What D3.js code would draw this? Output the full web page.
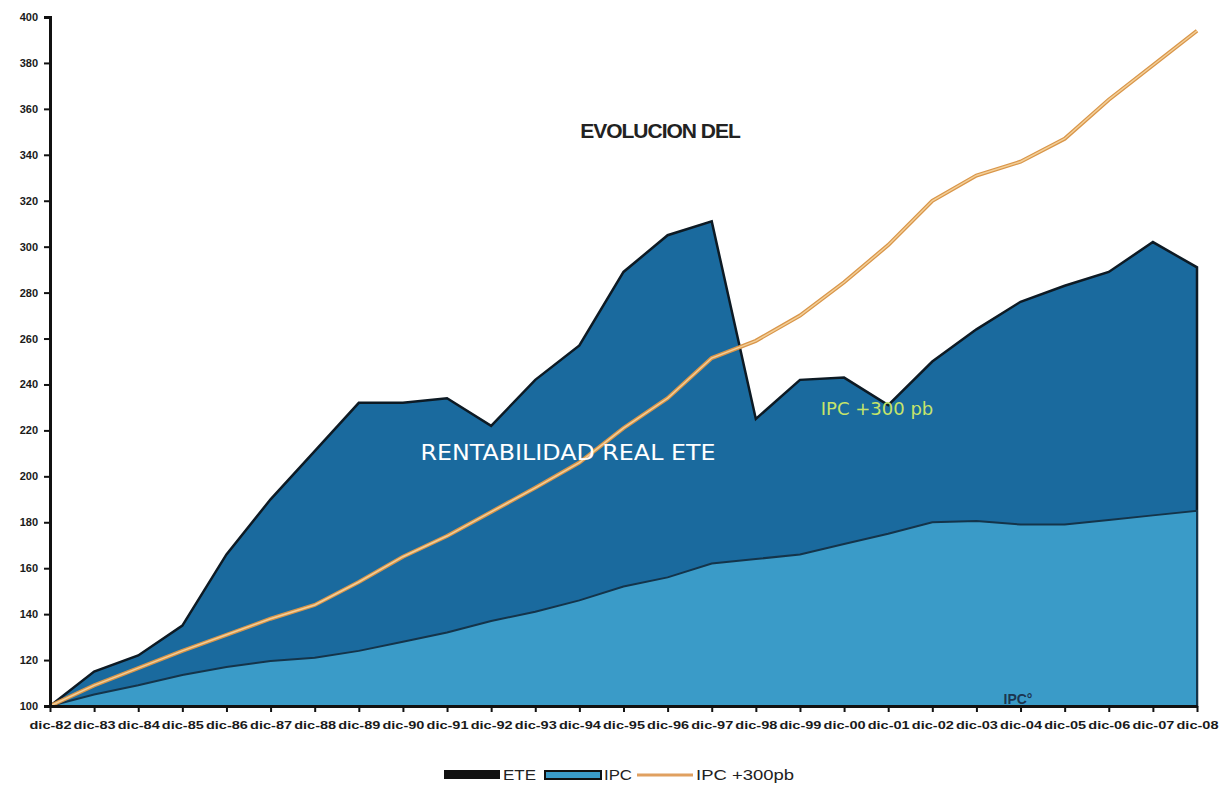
<!DOCTYPE html>
<html><head><meta charset="utf-8">
<script src="https://cdn.jsdelivr.net/npm/d3@7"></script>
<style>body{margin:0;background:#fff}svg{display:block}</style>
</head><body>
<svg id="c" width="1225" height="789"></svg>
<script>
const categories = ["dic-82","dic-83","dic-84","dic-85","dic-86","dic-87","dic-88","dic-89","dic-90","dic-91","dic-92","dic-93","dic-94","dic-95","dic-96","dic-97","dic-98","dic-99","dic-00","dic-01","dic-02","dic-03","dic-04","dic-05","dic-06","dic-07","dic-08"];
const ete = [100,115,122,135,166,190,211,232,232,234,222,242,257,289,305,311,225,242,243,231,250,264,276,283,289,302,291];
const ipc = [100,105,109,113.5,117,119.6,121,124,128,132,137,141,146,152,156,162,164,166,170.5,175,180,180.5,179,179,181,183,185];
const ipc300 = [100,109,116.5,124,131,138,144,154,165,174,184.5,195,206,221,234,251.5,259,270,284.5,300.7,320,331,337,347,364,379,394];
const yTicks = [100,120,140,160,180,200,220,240,260,280,300,320,340,360,380,400];

const svg = d3.select("#c");
const x = d3.scalePoint().domain(categories).range([50,1197]);
const y = d3.scaleLinear().domain([100,400]).range([706,17]);

const areaE = d3.area().x((d,i)=>x(categories[i])).y0(y(100)).y1(d=>y(d));
svg.append("path").datum(ete).attr("d",areaE).attr("fill","#1a6a9e").attr("stroke","#0d1a24").attr("stroke-width",2.5);
svg.append("path").datum(ipc).attr("d",areaE).attr("fill","#3a9bc8").attr("stroke","#14344a").attr("stroke-width",2);

const line = d3.line().x((d,i)=>x(categories[i])).y(d=>y(d));
svg.append("path").datum(ipc300).attr("d",line).attr("fill","none").attr("stroke","#d9964a").attr("stroke-width",4);
svg.append("path").datum(ipc300).attr("d",line).attr("fill","none").attr("stroke","#f3cf98").attr("stroke-width",1.5);

// axes
const ya = svg.append("g").attr("transform","translate(50,0)")
  .call(d3.axisLeft(y).tickValues(yTicks).tickSize(6).tickPadding(6).tickFormat(d3.format("d")));
ya.select(".domain").attr("stroke","#111").attr("stroke-width",3);
ya.selectAll(".tick line").attr("stroke","#111").attr("stroke-width",2);
ya.selectAll("text").attr("font-family","Liberation Sans, Arial").attr("font-weight","bold").attr("font-size",11).attr("fill","#1a1a1a");

const xa = svg.append("g").attr("transform","translate(0,706)")
  .call(d3.axisBottom(x).tickSize(6).tickPadding(9).tickSizeOuter(0));
xa.select(".domain").attr("stroke","#111").attr("stroke-width",3);
xa.selectAll(".tick line").attr("stroke","#111").attr("stroke-width",2);
xa.selectAll("text").attr("font-family","Liberation Sans, Arial").attr("font-weight","bold").attr("font-size",11.5).attr("fill","#1a1a1a").attr("textLength",42).attr("lengthAdjust","spacingAndGlyphs");

// annotations
svg.append("text").attr("x",660).attr("y",138).attr("text-anchor","middle").attr("font-family","Liberation Sans, Arial").attr("font-weight","bold").attr("font-size",21).attr("fill","#222").attr("letter-spacing",-1).text("EVOLUCION DEL");
svg.append("text").attr("x",568).attr("y",460).attr("text-anchor","middle").attr("font-family","DejaVu Sans, Arial").attr("font-size",21).attr("fill","#fff").attr("textLength",295).attr("lengthAdjust","spacingAndGlyphs").text("RENTABILIDAD  REAL  ETE");
svg.append("text").attr("x",877).attr("y",415).attr("text-anchor","middle").attr("font-family","DejaVu Sans, Arial").attr("font-size",18).attr("fill","#c6e46a").text("IPC +300 pb");
svg.append("text").attr("x",1018).attr("y",704).attr("text-anchor","middle").attr("font-family","Liberation Sans, Arial").attr("font-weight","bold").attr("font-size",14).attr("fill","#1c3550").text("IPC°");

// legend
const lf = "Liberation Sans, Arial";
svg.append("rect").attr("x",444).attr("y",770).attr("width",56).attr("height",9).attr("fill","#111");
svg.append("text").attr("x",503).attr("y",780).attr("font-family",lf).attr("font-size",14).attr("fill","#222").attr("textLength",33).attr("lengthAdjust","spacingAndGlyphs").text("ETE");
svg.append("rect").attr("x",545).attr("y",771).attr("width",56).attr("height",8).attr("fill","#3a9bc8").attr("stroke","#111").attr("stroke-width",2);
svg.append("text").attr("x",604).attr("y",780).attr("font-family",lf).attr("font-size",14).attr("fill","#222").attr("textLength",28).attr("lengthAdjust","spacingAndGlyphs").text("IPC");
svg.append("line").attr("x1",637).attr("x2",693).attr("y1",775).attr("y2",775).attr("stroke","#e0a060").attr("stroke-width",3);
svg.append("text").attr("x",696).attr("y",780).attr("font-family",lf).attr("font-size",14).attr("fill","#222").attr("textLength",98).attr("lengthAdjust","spacingAndGlyphs").text("IPC +300pb");
</script>
</body></html>
